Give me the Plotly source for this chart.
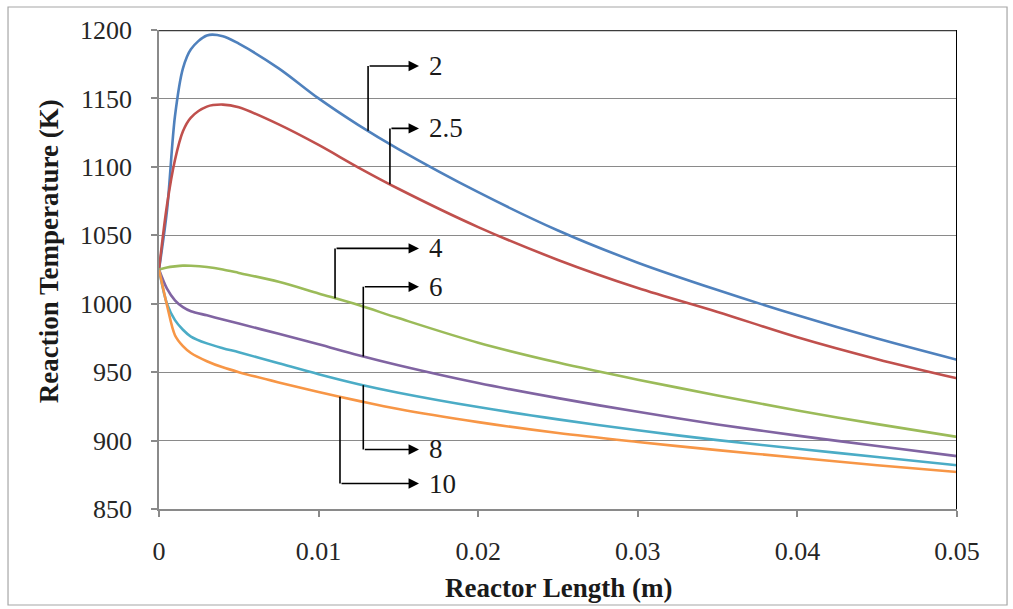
import numpy as np
import plotly.graph_objects as go

# Reactor length positions (m)
length_m = [0, 0.0005, 0.001, 0.0015, 0.002, 0.003, 0.004, 0.005, 0.0075, 0.01,
            0.0125, 0.015, 0.02, 0.025, 0.03, 0.035, 0.04, 0.045, 0.05]

# Reaction temperature profiles (K), one per parameter value
temp_2 = [1025, 1068, 1137, 1172, 1186, 1196, 1195.5, 1190, 1172, 1150,
          1130.5, 1113, 1081.5, 1053.5, 1030, 1010, 991.5, 974.5, 959]
temp_2_5 = [1025, 1072, 1105, 1126, 1136, 1144, 1145.5, 1143.5, 1131, 1116,
            1099.5, 1084, 1056, 1032, 1011.5, 994, 975.5, 959.5, 945.5]
temp_4 = [1025, 1026.5, 1027.3, 1027.8, 1027.7, 1026.8, 1025, 1022.5, 1016, 1007.5,
          999, 989.5, 971.5, 957, 944.5, 933, 922, 912, 902.7]
temp_6 = [1025, 1011, 1002.5, 997.5, 994.5, 991.5, 988.5, 985.5, 978, 970.3,
          962.3, 955, 942, 931, 921, 911.8, 903.6, 896, 888.6]
temp_8 = [1025, 1000, 988, 981, 976, 971, 967.5, 964.5, 956.5, 948.5,
          941.2, 935, 924.5, 915.5, 907.5, 900.3, 894, 888, 882]
temp_10 = [1025, 999, 977, 969, 964, 958, 953.5, 950, 942.5, 935.5,
           929, 923, 913.5, 905.5, 899, 893, 887.5, 882, 877]

series_names = ["2", "2.5", "4", "6", "8", "10"]
series_values = [temp_2, temp_2_5, temp_4, temp_6, temp_8, temp_10]
series_colors = ["#4F81BD", "#C0504D", "#9BBB59", "#8064A2", "#4BACC6", "#F79646"]

# Callout elbows: stem position along the reactor and the row of each label
callout_x = [0.0131, 0.01447, 0.01103, 0.0128, 0.0128, 0.01134]
callout_y = [1173.7, 1128.1, 1040.4, 1012.4, 893.5, 868.6]
arrow_tip_x = 0.01629
label_x = 0.0168

x_ticks = [0, 0.01, 0.02, 0.03, 0.04, 0.05]
x_tick_text = ["0", "0.01", "0.02", "0.03", "0.04", "0.05"]
y_ticks = [850, 900, 950, 1000, 1050, 1100, 1150, 1200]

SERIF = "'Liberation Serif', serif"
GRID = "#8a8a8a"

fig = go.Figure()
for name, vals, col in zip(series_names, series_values, series_colors):
    fig.add_trace(go.Scatter(
        x=length_m, y=vals, mode="lines", name=name,
        line=dict(color=col, width=2.6, shape="spline", smoothing=0.9),
        showlegend=False,
    ))

shapes = []
annotations = []
for name, vals, cx, cy in zip(series_names, series_values, callout_x, callout_y):
    base = float(np.interp(cx, length_m, vals))
    shapes.append(dict(type="line", xref="x", yref="y", x0=cx, x1=cx, y0=base, y1=cy,
                       line=dict(color="black", width=1.6)))
    annotations.append(dict(x=arrow_tip_x, y=cy, ax=cx, ay=cy, xref="x", yref="y",
                            axref="x", ayref="y", showarrow=True, arrowhead=2,
                            arrowsize=1.3, arrowwidth=1.6, arrowcolor="black", text=""))
    annotations.append(dict(x=label_x, y=cy, xref="x", yref="y", text=name,
                            showarrow=False, xanchor="left", yanchor="middle",
                            font=dict(family=SERIF, size=27, color="#1a1a1a")))

# darker top gridline and black right edge of the plot area
shapes.append(dict(type="line", xref="paper", yref="y", x0=0, x1=1, y0=1200, y1=1200,
                   line=dict(color="#3c3c3c", width=2.5)))
shapes.append(dict(type="line", xref="x", yref="paper", x0=0.05, x1=0.05, y0=0, y1=1,
                   line=dict(color="black", width=2)))
# outer chart border
shapes.append(dict(type="rect", xref="paper", yref="paper",
                   x0=-0.1892, x1=1.0627, y0=-0.2004, y1=1.0480,
                   line=dict(color="#a6a6a6", width=1.2), layer="below"))

# axis titles
annotations.append(dict(x=0.5, y=-0.165, xref="paper", yref="paper",
                        text="<b>Reactor Length (m)</b>", showarrow=False,
                        xanchor="center", yanchor="middle",
                        font=dict(family=SERIF, size=27, color="#1a1a1a")))
annotations.append(dict(x=-0.137, y=0.5376, xref="paper", yref="paper",
                        text="<b>Reaction Temperature (K)</b>", showarrow=False,
                        textangle=-90, xanchor="center", yanchor="middle",
                        font=dict(family=SERIF, size=27, color="#1a1a1a")))

fig.update_layout(
    width=1013, height=609,
    margin=dict(l=159, r=56, t=30, b=100),
    paper_bgcolor="white", plot_bgcolor="white",
    font=dict(family=SERIF),
    shapes=shapes, annotations=annotations,
    xaxis=dict(range=[0, 0.05], tickvals=x_ticks, ticktext=x_tick_text,
               showgrid=False, zeroline=False, showline=True, linecolor=GRID, linewidth=1.5,
               ticks="outside", ticklen=6, tickcolor=GRID, tickwidth=1.5,
               ticklabelstandoff=12,
               tickfont=dict(family=SERIF, size=26, color="#262626")),
    yaxis=dict(range=[850, 1200], tickvals=y_ticks,
               showgrid=True, gridcolor=GRID, gridwidth=1.3, zeroline=False,
               showline=True, linecolor=GRID, linewidth=1.5,
               ticks="outside", ticklen=6, tickcolor=GRID, tickwidth=1.5,
               ticklabelstandoff=14,
               tickfont=dict(family=SERIF, size=26, color="#262626")),
)

fig.write_html("out.html")
